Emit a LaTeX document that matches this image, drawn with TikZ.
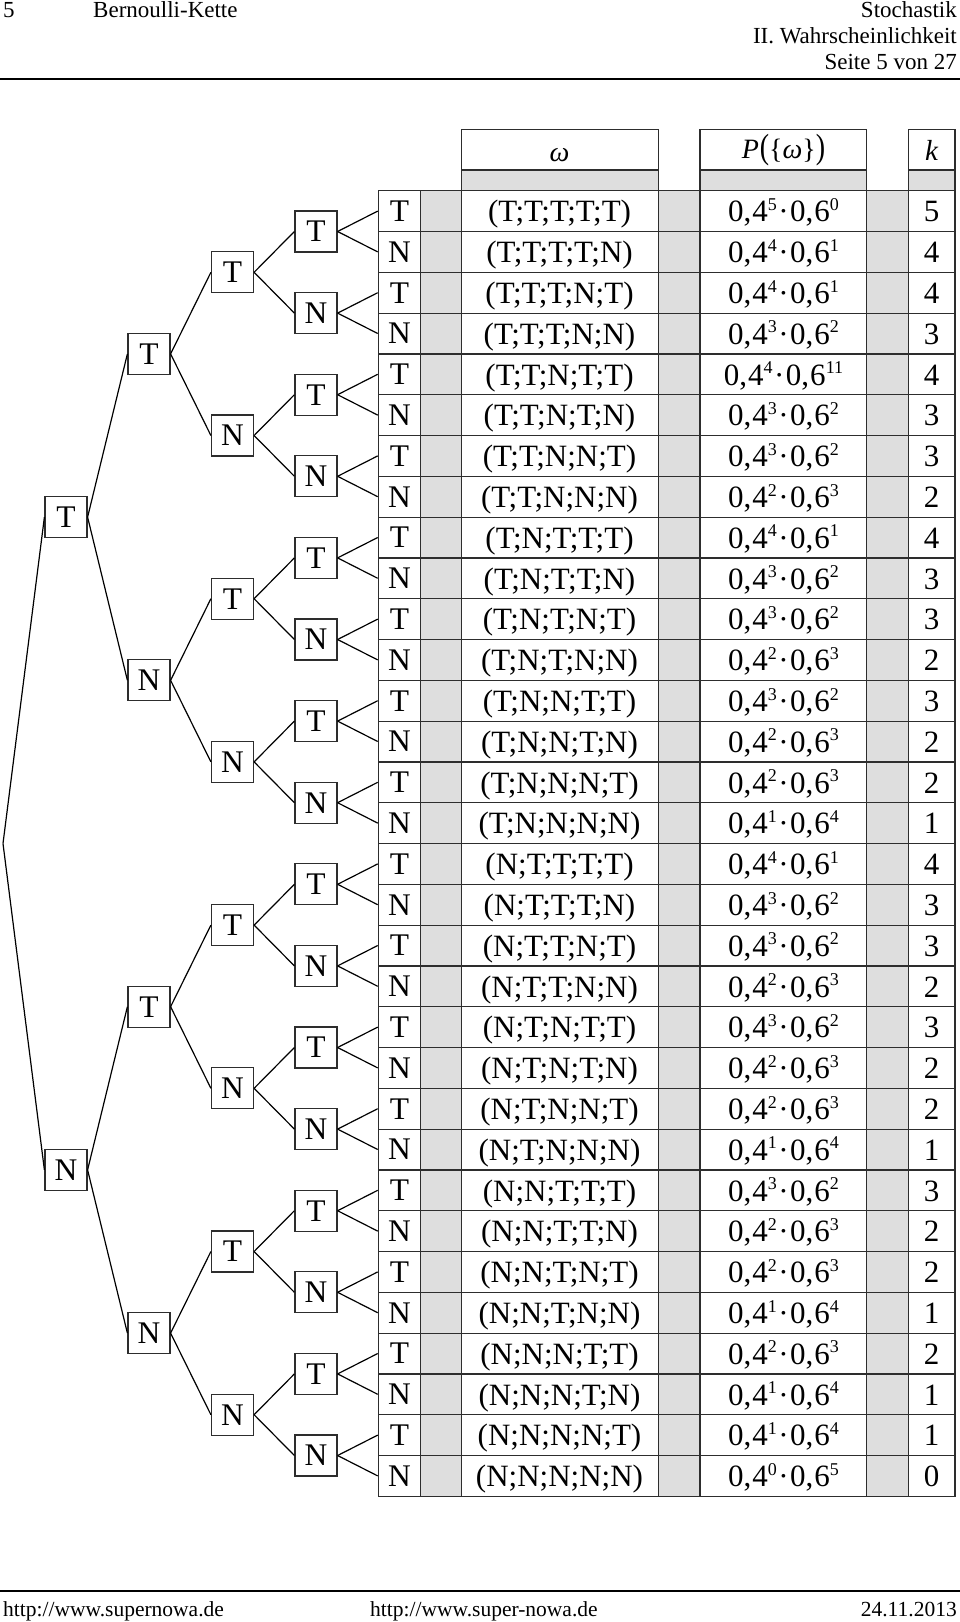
\documentclass[tikz,border=0pt]{standalone}
\usepackage{fontspec}
\usepackage{graphicx}
\setmainfont{Liberation Serif}
\definecolor{cellgray}{RGB}{222,222,222}
\definecolor{linegray}{RGB}{45,45,45}
\newcommand\ex[1]{\raisebox{11.5pt}{\fontsize{18}{18}\selectfont #1}}
\newcommand\prob[2]{0,\kern1pt4\ex{#1}\kern1.5pt·\kern1.5pt0,\kern1pt6\ex{#2}}
\begin{document}
\begin{tikzpicture}[x=1pt,y=-1pt,
  treebox/.style={draw=linegray, line width=1.2pt, minimum width=42pt, minimum height=41pt, inner sep=0pt, font=\fontsize{31.5}{31.5}\selectfont},
  leafcell/.style={draw=linegray, line width=1.2pt, minimum width=42.4pt, minimum height=40.8pt, inner sep=0pt, font=\fontsize{31.5}{31.5}\selectfont},
  edge/.style={line width=1.2pt, black},
  datatxt/.style={anchor=base, inner sep=0pt, font=\fontsize{31}{31}\selectfont},
  hdr/.style={inner sep=0pt, font=\fontsize{23}{23}\selectfont},
  ftr/.style={inner sep=0pt, font=\fontsize{21.5}{21.5}\selectfont},
  headtxt/.style={anchor=base, inner sep=0pt, font=\fontsize{28}{28}\selectfont},
  grid/.style={draw=linegray, line width=1.2pt, line cap=rect},
]
\useasboundingbox (0,0) rectangle (960,1622);
\fill[white] (0,0) rectangle (960,1622);
% page header
\node[hdr, anchor=base west] (pgnum) at (3,17.5) {5};
\node[hdr, anchor=base west] (chap) at (93,17.5) {Bernoulli-Kette};
\node[hdr, anchor=base east] (h1) at (957,17.5) {Stochastik};
\node[hdr, anchor=base east] (h2) at (957,43.5) {II. Wahrscheinlichkeit};
\node[hdr, anchor=base east] (h3) at (957,69.5) {Seite 5 von 27};
\draw[line width=2.5pt] (0,79) -- (960,79);
% page footer
\draw[line width=2.5pt] (0,1591) -- (960,1591);
\node[ftr, anchor=base west] (f1) at (3,1616) {http://www.supernowa.de};
\node[ftr, anchor=base west] (f2) at (370,1616) {http://www.super-nowa.de};
\node[ftr, anchor=base east] (f3) at (957,1616) {24.11.2013};
% table background
\fill[cellgray] (420.7,190.7) rectangle (461.7,1496.3);
\fill[cellgray] (658.3,190.7) rectangle (700,1496.3);
\fill[cellgray] (866.7,190.7) rectangle (908.3,1496.3);
\fill[cellgray] (461.7,170) rectangle (658.3,190.7);
\fill[cellgray] (700,170) rectangle (866.7,190.7);
\fill[cellgray] (908.3,170) rectangle (955,190.7);
% header boxes
\draw[grid] (461.7,129.3) rectangle (658.3,190.7);
\draw[grid] (461.7,170) -- (658.3,170);
\draw[grid] (700,129.3) rectangle (866.7,190.7);
\draw[grid] (700,170) -- (866.7,170);
\draw[grid] (908.3,129.3) rectangle (955,190.7);
\draw[grid] (908.3,170) -- (955,170);
\node[headtxt, font=\fontsize{28}{28}\selectfont\itshape] (hw) at (559.5,161) {ω};
\node[headtxt] (hp) at (783.5,158) {\textit{P}\kern1pt\scalebox{1}[1.25]{(}\{\textit{ω}\}\scalebox{1}[1.25]{)}};
\node[headtxt, font=\fontsize{29}{29}\selectfont\itshape] (hk) at (931.5,160) {k};
% grid
\foreach \i in {0,...,32} \draw[grid] (378.3,{190.7+40.8*\i}) -- (955,{190.7+40.8*\i});
\foreach \x in {378.3,420.7,461.7,658.3,700,866.7,908.3,955} \draw[grid] (\x,190.7) -- (\x,1496.3);
% rows
\foreach \i/\L/\w/\a/\b/\k in {
0/T/T;T;T;T;T/5/0/5,
1/N/T;T;T;T;N/4/1/4,
2/T/T;T;T;N;T/4/1/4,
3/N/T;T;T;N;N/3/2/3,
4/T/T;T;N;T;T/4/11/4,
5/N/T;T;N;T;N/3/2/3,
6/T/T;T;N;N;T/3/2/3,
7/N/T;T;N;N;N/2/3/2,
8/T/T;N;T;T;T/4/1/4,
9/N/T;N;T;T;N/3/2/3,
10/T/T;N;T;N;T/3/2/3,
11/N/T;N;T;N;N/2/3/2,
12/T/T;N;N;T;T/3/2/3,
13/N/T;N;N;T;N/2/3/2,
14/T/T;N;N;N;T/2/3/2,
15/N/T;N;N;N;N/1/4/1,
16/T/N;T;T;T;T/4/1/4,
17/N/N;T;T;T;N/3/2/3,
18/T/N;T;T;N;T/3/2/3,
19/N/N;T;T;N;N/2/3/2,
20/T/N;T;N;T;T/3/2/3,
21/N/N;T;N;T;N/2/3/2,
22/T/N;T;N;N;T/2/3/2,
23/N/N;T;N;N;N/1/4/1,
24/T/N;N;T;T;T/3/2/3,
25/N/N;N;T;T;N/2/3/2,
26/T/N;N;T;N;T/2/3/2,
27/N/N;N;T;N;N/1/4/1,
28/T/N;N;N;T;T/2/3/2,
29/N/N;N;N;T;N/1/4/1,
30/T/N;N;N;N;T/1/4/1,
31/N/N;N;N;N;N/0/5/0} {
  \pgfmathsetmacro\yc{190.7+40.8*(\i+0.5)}
  \node[leafcell] (e\i) at (399.5,\yc) {\L};
  \node[datatxt] (w\i) at (559.5,{\yc+10.8}) {(\w)};
  \node[datatxt] (p\i) at (783.5,{\yc+10.8}) {\prob{\a}{\b}};
  \node[datatxt] (k\i) at (931.5,{\yc+10.8}) {\k};
}
% tree
\coordinate (r) at (3,843.5);
\foreach \j in {0,1} {
  \pgfmathsetmacro\yy{190.7+40.8*(16*\j+8)}
  \node[treebox] (a\j) at (66,\yy) {\ifodd\j\relax N\else T\fi};
}
\foreach \j in {0,...,3} {
  \pgfmathsetmacro\yy{190.7+40.8*(8*\j+4)}
  \node[treebox] (b\j) at (149,\yy) {\ifodd\j\relax N\else T\fi};
}
\foreach \j in {0,...,7} {
  \pgfmathsetmacro\yy{190.7+40.8*(4*\j+2)}
  \node[treebox] (c\j) at (232.5,\yy) {\ifodd\j\relax N\else T\fi};
}
\foreach \j in {0,...,15} {
  \pgfmathsetmacro\yy{190.7+40.8*(2*\j+1)}
  \node[treebox] (d\j) at (316,\yy) {\ifodd\j\relax N\else T\fi};
}
\foreach \j in {0,1} \draw[edge] (r) -- (a\j.west);
\foreach \j in {0,...,3} {\pgfmathtruncatemacro\p{floor(\j/2)} \draw[edge] (a\p.east) -- (b\j.west);}
\foreach \j in {0,...,7} {\pgfmathtruncatemacro\p{floor(\j/2)} \draw[edge] (b\p.east) -- (c\j.west);}
\foreach \j in {0,...,15} {\pgfmathtruncatemacro\p{floor(\j/2)} \draw[edge] (c\p.east) -- (d\j.west);}
\foreach \j in {0,...,31} {\pgfmathtruncatemacro\p{floor(\j/2)} \draw[edge] (d\p.east) -- (e\j.west);}
\end{tikzpicture}
\end{document}
